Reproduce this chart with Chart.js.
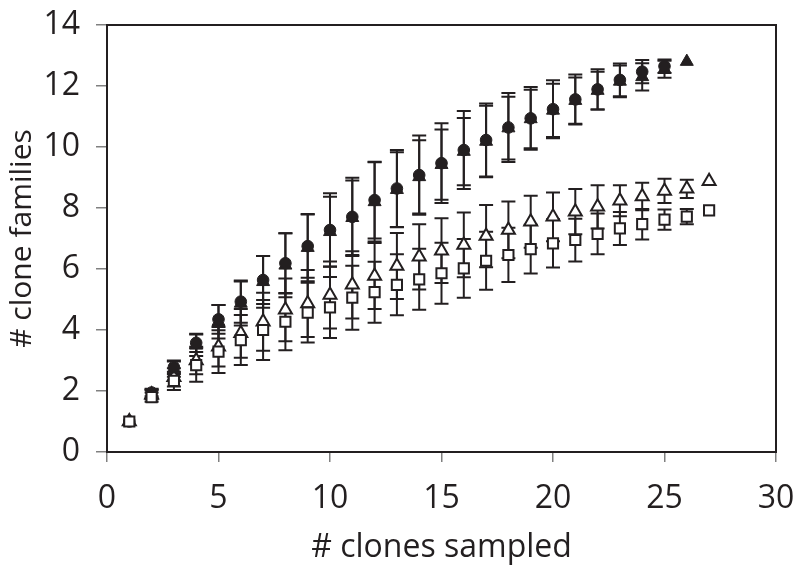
<!DOCTYPE html>
<html>
<head>
<meta charset="utf-8">
<script src="https://cdn.jsdelivr.net/npm/chart.js@4/dist/chart.umd.min.js"></script>
<style>
  html, body { margin: 0; padding: 0; background: #ffffff; }
  #wrap { width: 798px; height: 569px; }
</style>
</head>
<body>
<div id="wrap"><canvas id="c" width="798" height="569"></canvas></div>
<script>
// ---- data ----
const clonesSampled = [1,2,3,4,5,6,7,8,9,10,11,12,13,14,15,16,17,18,19,20,21,22,23,24,25,26,27];

const circleMean    = [1.0,1.95,2.78,3.58,4.35,4.93,5.64,6.19,6.75,7.28,7.71,8.26,8.64,9.08,9.47,9.90,10.23,10.64,10.94,11.24,11.56,11.89,12.20,12.47,12.65];
const circleErr     = [0,0.12,0.22,0.30,0.47,0.69,0.79,0.98,1.04,1.20,1.28,1.26,1.26,1.30,1.31,1.28,1.20,1.13,1.03,0.95,0.82,0.66,0.54,0.38,0.22];

const triFilledMean = [1.0,1.90,2.72,3.50,4.27,4.87,5.58,6.12,6.70,7.22,7.68,8.20,8.60,9.02,9.42,9.85,10.18,10.62,10.92,11.20,11.52,11.85,12.15,12.30,12.55,12.80];
const triFilledErr  = [0,0.15,0.25,0.35,0.55,0.72,0.85,1.05,1.10,1.15,1.22,1.30,1.23,1.20,1.15,1.10,1.17,1.03,0.96,0.87,0.76,0.62,0.52,0.45,0.28,0];

const triOpenMean   = [1.0,1.88,2.45,3.00,3.45,3.89,4.27,4.66,4.87,5.15,5.48,5.77,6.10,6.40,6.60,6.79,7.08,7.28,7.55,7.71,7.88,8.04,8.24,8.38,8.56,8.63,8.88];
const triOpenErr    = [0,0.15,0.30,0.45,0.65,0.80,0.95,1.03,1.10,1.10,1.10,1.08,1.08,1.07,1.06,1.06,1.02,0.93,0.85,0.80,0.74,0.71,0.51,0.45,0.40,0.30,0];

const squareMean    = [1.0,1.80,2.33,2.85,3.29,3.67,4.00,4.27,4.57,4.74,5.06,5.24,5.48,5.66,5.86,6.02,6.27,6.46,6.65,6.84,6.95,7.15,7.33,7.47,7.62,7.72,7.92];
const squareErr     = [0,0.15,0.30,0.55,0.70,0.82,0.98,0.93,0.98,1.00,1.05,1.00,1.00,1.00,1.00,0.96,0.95,0.89,0.80,0.79,0.70,0.67,0.54,0.50,0.33,0.25,0];

const xTicks = [0,5,10,15,20,25,30];
const yTicks = [0,2,4,6,8,10,12,14];
const xTitle = '# clones sampled';
const yTitle = '# clone families';

// ---- build ----
const INK = '#231f20';
function pts(means) { return means.map((m, i) => ({ x: clonesSampled[i], y: m })); }

const errorSets = [circleErr, triFilledErr, triOpenErr, squareErr];

const errorBarPlugin = {
  id: 'errorBars',
  beforeDatasetsDraw(chart) {
    const ctx = chart.ctx, xs = chart.scales.x, ys = chart.scales.y;
    ctx.save();
    ctx.strokeStyle = INK;
    ctx.lineWidth = 2;
    ctx.lineCap = 'butt';
    chart.data.datasets.forEach((ds, i) => {
      const errs = errorSets[i];
      ds.data.forEach((p, j) => {
        const e = errs[j];
        if (!e) return;
        const px = xs.getPixelForValue(p.x);
        const top = ys.getPixelForValue(p.y + e);
        const bot = ys.getPixelForValue(p.y - e);
        ctx.beginPath();
        ctx.moveTo(px, top); ctx.lineTo(px, bot);
        ctx.moveTo(px - 7, top); ctx.lineTo(px + 7, top);
        ctx.moveTo(px - 7, bot); ctx.lineTo(px + 7, bot);
        ctx.stroke();
      });
    });
    ctx.restore();
  }
};

const framePlugin = {
  id: 'frame',
  beforeDatasetsDraw(chart) {
    const { ctx, chartArea: a } = chart;
    ctx.save();
    ctx.strokeStyle = INK;
    ctx.lineWidth = 2;
    ctx.strokeRect(a.left, a.top, a.right - a.left, a.bottom - a.top);
    ctx.restore();
  }
};

function noOverhang(s) {
  s.paddingTop = 0; s.paddingBottom = 0; s.paddingLeft = 0; s.paddingRight = 0;
}

const tickFont = { family: "'Open Sans', 'Noto Sans', sans-serif", size: 32 };
const xTitleFont = { family: "'Open Sans', 'Noto Sans', sans-serif", size: 32 };
const yTitleFont = { family: "'Open Sans', 'Noto Sans', sans-serif", size: 30 };

new Chart(document.getElementById('c'), {
  type: 'scatter',
  data: {
    datasets: [
      { label: 'filled circles', data: pts(circleMean), pointStyle: 'circle', pointRadius: 5.8,
        backgroundColor: INK, borderColor: INK, borderWidth: 1, order: 2 },
      { label: 'filled triangles', data: pts(triFilledMean), pointStyle: 'triangle', pointRadius: 7.5,
        backgroundColor: INK, borderColor: INK, borderWidth: 1, order: 3 },
      { label: 'open triangles', data: pts(triOpenMean), pointStyle: 'triangle', pointRadius: 7.5,
        backgroundColor: '#ffffff', borderColor: INK, borderWidth: 2, order: 4 },
      { label: 'open squares', data: pts(squareMean), pointStyle: 'rect', pointRadius: 7.2,
        backgroundColor: '#ffffff', borderColor: INK, borderWidth: 2, order: 1 }
    ]
  },
  options: {
    responsive: false,
    animation: false,
    events: [],
    layout: { autoPadding: false, padding: { top: 25, right: 22, left: 0, bottom: 0 } },
    plugins: { legend: { display: false }, tooltip: { enabled: false } },
    scales: {
      x: {
        type: 'linear', min: 0, max: 30,
        afterFit(s) { s.height = 117; noOverhang(s); },
        afterBuildTicks(s) { s.ticks = xTicks.map(v => ({ value: v })); },
        ticks: { font: tickFont, color: INK, padding: 18, maxRotation: 0 },
        grid: { drawOnChartArea: false, drawTicks: true, tickLength: 10, color: '#808080', lineWidth: 1.5 },
        border: { display: true, color: INK, width: 2 },
        title: { display: true, text: xTitle, font: xTitleFont, color: INK, padding: { top: 0, bottom: 2 } }
      },
      y: {
        type: 'linear', min: 0, max: 14,
        afterFit(s) { s.width = 107; noOverhang(s); },
        afterBuildTicks(s) { s.ticks = yTicks.map(v => ({ value: v })); },
        ticks: { font: tickFont, color: INK, padding: 16 },
        grid: { drawOnChartArea: false, drawTicks: true, tickLength: 11, color: '#808080', lineWidth: 1.5 },
        border: { display: true, color: INK, width: 2 },
        title: { display: true, text: yTitle, font: yTitleFont, color: INK, padding: { top: 4, bottom: 0 } }
      }
    }
  },
  plugins: [errorBarPlugin, framePlugin]
});
</script>
</body>
</html>
